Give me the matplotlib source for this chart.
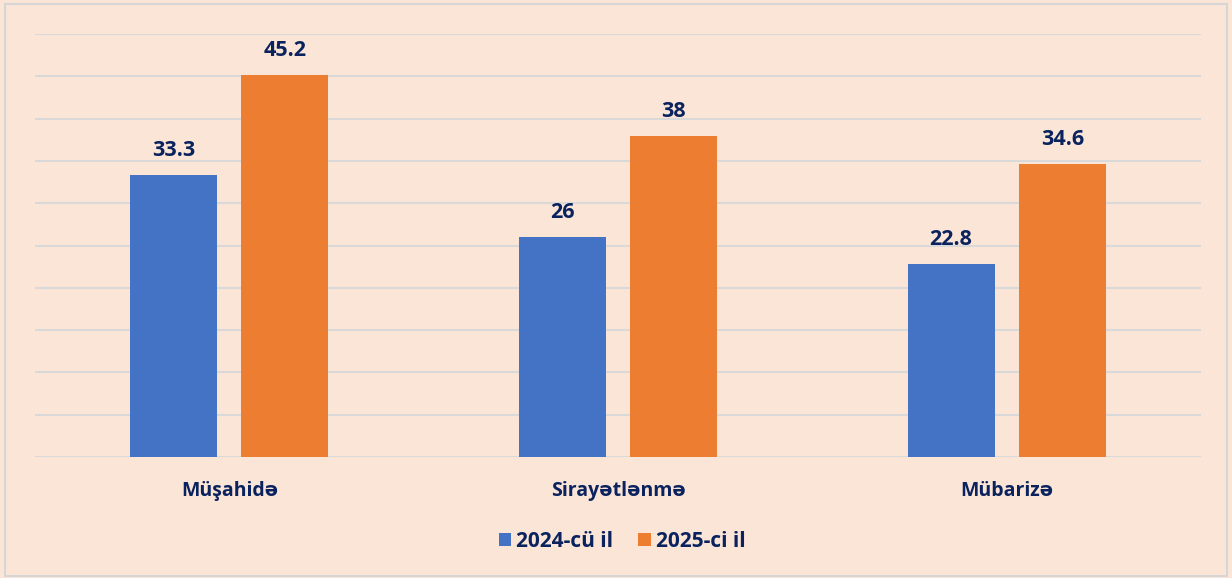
import numpy as np
import matplotlib.pyplot as plt
from matplotlib.patches import Rectangle

categories = ["Müşahidə", "Sirayətlənmə", "Mübarizə"]
series_names = ["2024-cü il", "2025-ci il"]
values_2024 = [33.3, 26, 22.8]
values_2025 = [45.2, 38, 34.6]
value_labels_2024 = ["33.3", "26", "22.8"]
value_labels_2025 = ["45.2", "38", "34.6"]

bg = "#FBE5D6"
blue = "#4472C4"
orange = "#ED7D31"
navy = "#0A225E"

plt.rcParams['font.family'] = ['Open Sans', 'DejaVu Sans']

fig = plt.figure(figsize=(12.32, 5.78), dpi=100)
fig.patch.set_facecolor(bg)
fig.patches.append(Rectangle((0.004, 0.004), 0.992, 0.989, transform=fig.transFigure,
                             fill=False, edgecolor="#D6D6D6", linewidth=1.5))

ax = fig.add_axes([0.0284, 0.2093, 0.9464, 0.7319])
ax.set_facecolor(bg)

x = np.arange(len(categories))
w = 0.224
off = 0.143
b1 = ax.bar(x - off, values_2024, w, color=blue, label=series_names[0], zorder=3)
b2 = ax.bar(x + off, values_2025, w, color=orange, label=series_names[1], zorder=3)

for bars, labs in [(b1, value_labels_2024), (b2, value_labels_2025)]:
    for b, lab in zip(bars, labs):
        ax.annotate(lab, (b.get_x() + b.get_width() / 2, b.get_height()),
                    xytext=(0, 10), textcoords="offset points", ha="center", va="bottom",
                    fontsize=15.5, fontweight="bold", color=navy)

ax.set_xlim(-0.5, 2.5)
ax.set_ylim(0, 50)
ax.set_yticks(np.arange(0, 51, 5))
ax.yaxis.grid(True, color="#D9D9D9", linewidth=1.5, zorder=0)
ax.tick_params(axis="y", left=False, labelleft=False)
ax.tick_params(axis="x", bottom=False, pad=14)
ax.set_xticks(x)
ax.set_xticklabels(categories, fontsize=14, fontweight="bold", color=navy)
for s in ax.spines.values():
    s.set_visible(False)

leg = fig.legend(loc="center", bbox_to_anchor=(0.505, 0.063), ncol=2, frameon=False,
                 prop={"size": 15, "weight": "bold"}, handlelength=0.6, handleheight=0.6,
                 handletextpad=0.25, columnspacing=1.2)
for t in leg.get_texts():
    t.set_color(navy)

fig.savefig("out.png", dpi=100, facecolor=bg)
